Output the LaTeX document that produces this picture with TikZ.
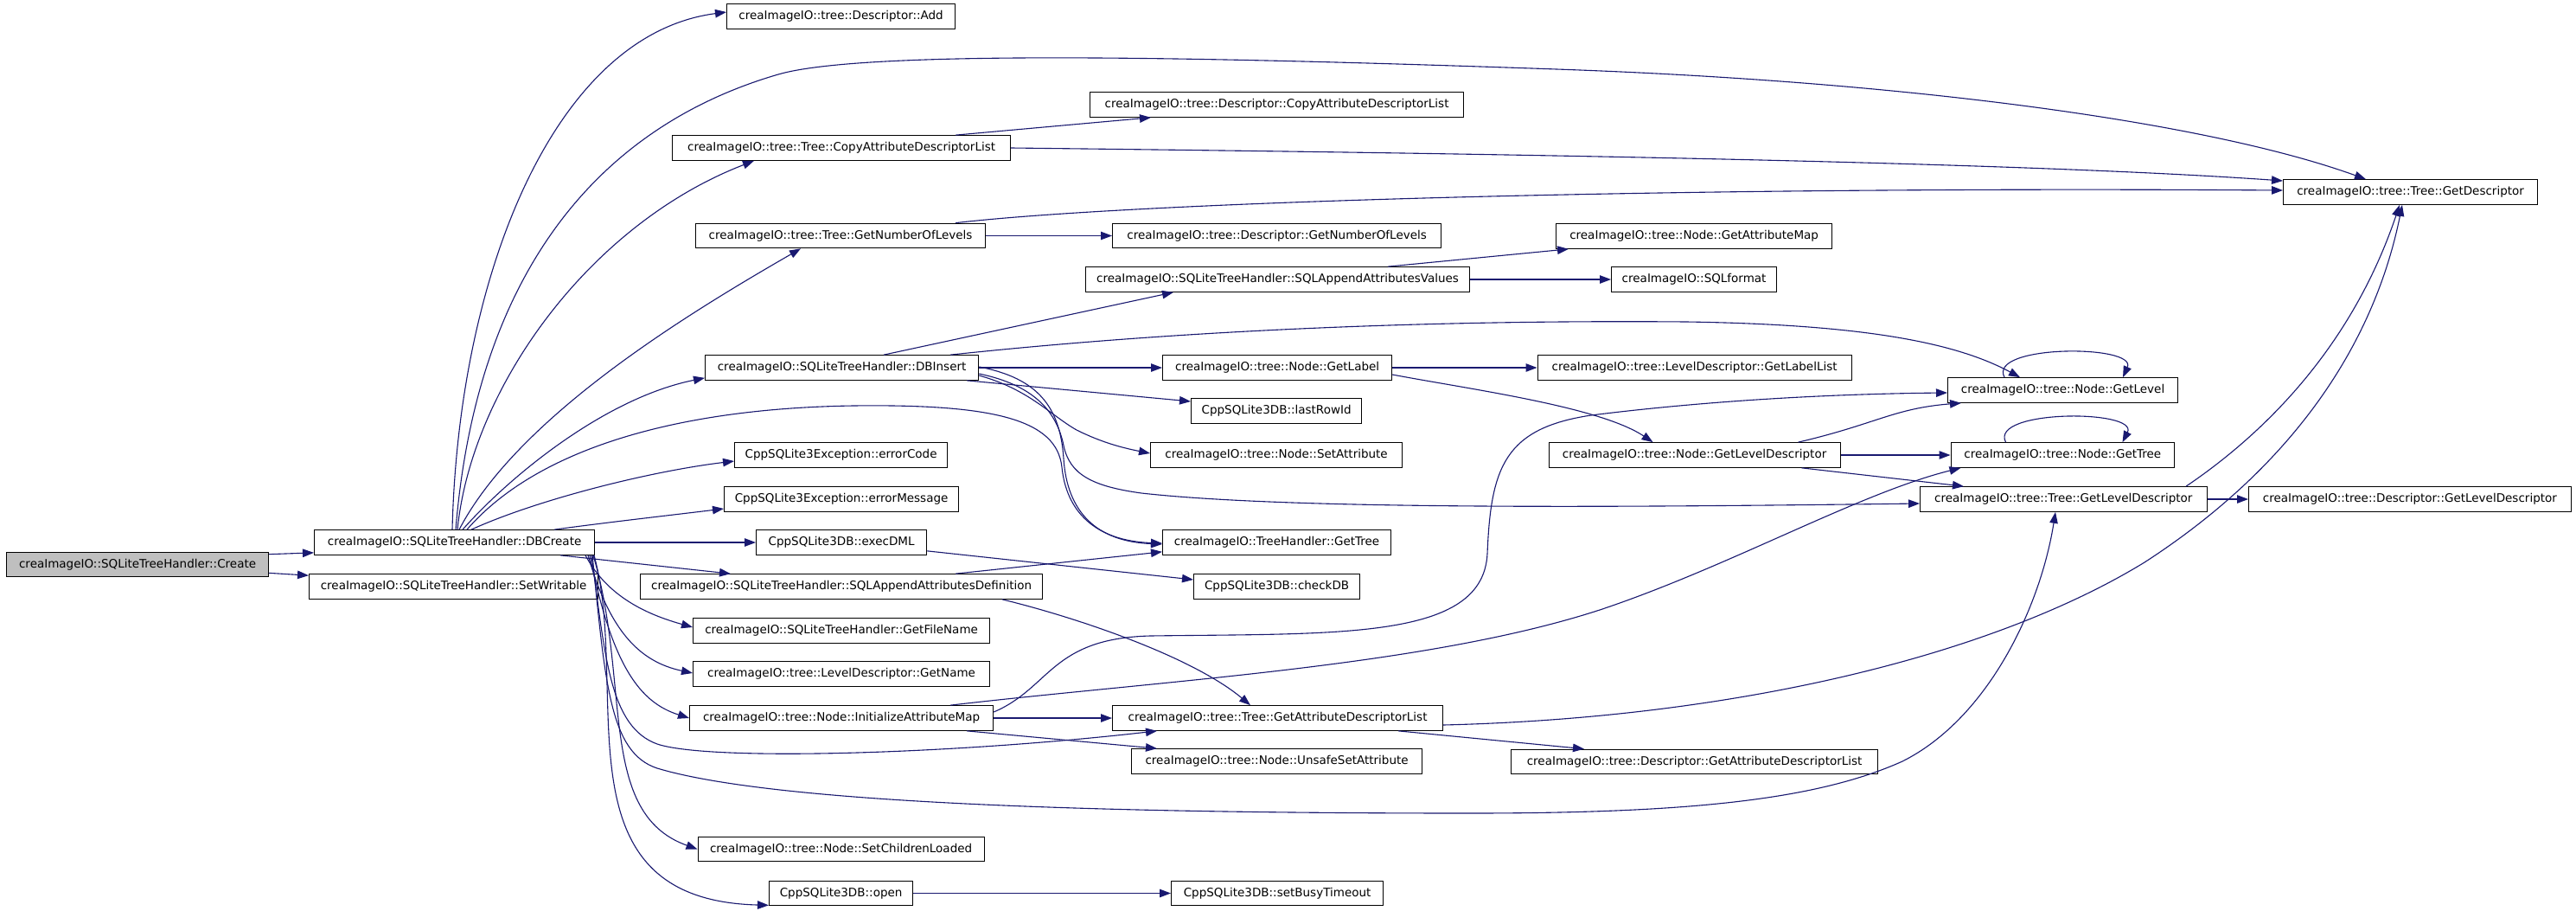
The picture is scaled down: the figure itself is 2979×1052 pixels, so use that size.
\documentclass[tikz,border=0pt]{standalone}
\usepackage{fontspec}
\setmainfont{DejaVu Sans}
\usetikzlibrary{arrows.meta,calc}
\definecolor{edgeblue}{RGB}{25,25,112}
\definecolor{rootgray}{RGB}{191,191,191}
\begin{document}
\begin{tikzpicture}[x=1pt,y=-1pt,
  box/.style={draw=black,line width=1.2pt,fill=white,minimum height=28.5pt,inner sep=0pt,anchor=west,font=\fontsize{13.5}{16}\selectfont},
  rootbox/.style={box,fill=rootgray},
  e/.style={draw=edgeblue,line width=1.1pt,-{Triangle[length=13pt,width=9.5pt]}}]
\fill[white] (0,0) rectangle (2979,1052);
\path[use as bounding box] (0,0) rectangle (2979,1052);

% nodes (anchor west at left edge)
\node[rootbox,minimum width=303pt] (create) at (7,652.5) {creaImageIO::SQLiteTreeHandler::Create};
\node[box,minimum width=324pt] (dbcreate) at (363,627) {creaImageIO::SQLiteTreeHandler::DBCreate};
\node[box,minimum width=334pt] (setwritable) at (357,678) {creaImageIO::SQLiteTreeHandler::SetWritable};

\node[box,minimum width=264pt] (add) at (840,19) {creaImageIO::tree::Descriptor::Add};
\node[box,minimum width=391pt] (tcopy) at (777,171) {creaImageIO::tree::Tree::CopyAttributeDescriptorList};
\node[box,minimum width=335pt] (tnlev) at (804,272.5) {creaImageIO::tree::Tree::GetNumberOfLevels};
\node[box,minimum width=316pt] (dbinsert) at (815,425) {creaImageIO::SQLiteTreeHandler::DBInsert};
\node[box,minimum width=246pt] (errcode) at (849,526) {CppSQLite3Exception::errorCode};
\node[box,minimum width=271pt] (errmsg) at (837,577) {CppSQLite3Exception::errorMessage};
\node[box,minimum width=197pt] (execdml) at (874,627) {CppSQLite3DB::execDML};
\node[box,minimum width=465pt] (sqldef) at (740,678) {creaImageIO::SQLiteTreeHandler::SQLAppendAttributesDefinition};
\node[box,minimum width=343pt] (filename) at (801,729) {creaImageIO::SQLiteTreeHandler::GetFileName};
\node[box,minimum width=343pt] (getname) at (801,779) {creaImageIO::tree::LevelDescriptor::GetName};
\node[box,minimum width=351pt] (initmap) at (797,830) {creaImageIO::tree::Node::InitializeAttributeMap};
\node[box,minimum width=331pt] (children) at (806.5,981.5) {creaImageIO::tree::Node::SetChildrenLoaded};
\node[box,minimum width=166pt] (open) at (889,1032.5) {CppSQLite3DB::open};

\node[box,minimum width=432pt] (dcopy) at (1260,121) {creaImageIO::tree::Descriptor::CopyAttributeDescriptorList};
\node[box,minimum width=380pt] (dnlev) at (1286,272.5) {creaImageIO::tree::Descriptor::GetNumberOfLevels};
\node[box,minimum width=444pt] (sqlvalues) at (1255,323) {creaImageIO::SQLiteTreeHandler::SQLAppendAttributesValues};
\node[box,minimum width=265pt] (getlabel) at (1344,425) {creaImageIO::tree::Node::GetLabel};
\node[box,minimum width=197pt] (lastrowid) at (1377,475) {CppSQLite3DB::lastRowId};
\node[box,minimum width=291pt] (setattr) at (1330,526) {creaImageIO::tree::Node::SetAttribute};
\node[box,minimum width=264pt] (thgettree) at (1344,627) {creaImageIO::TreeHandler::GetTree};
\node[box,minimum width=192pt] (checkdb) at (1380,678) {CppSQLite3DB::checkDB};
\node[box,minimum width=382pt] (tattrlist) at (1286,830) {creaImageIO::tree::Tree::GetAttributeDescriptorList};
\node[box,minimum width=336pt] (unsafe) at (1308,880) {creaImageIO::tree::Node::UnsafeSetAttribute};
\node[box,minimum width=245pt] (busy) at (1354,1032.5) {CppSQLite3DB::setBusyTimeout};

\node[box,minimum width=319pt] (getattrmap) at (1799,273) {creaImageIO::tree::Node::GetAttributeMap};
\node[box,minimum width=191pt] (sqlformat) at (1863,323) {creaImageIO::SQLformat};
\node[box,minimum width=363pt] (labellist) at (1777.5,425) {creaImageIO::tree::LevelDescriptor::GetLabelList};
\node[box,minimum width=337pt] (nlevdesc) at (1790.5,526) {creaImageIO::tree::Node::GetLevelDescriptor};
\node[box,minimum width=424pt] (dattrlist) at (1747,880.5) {creaImageIO::tree::Descriptor::GetAttributeDescriptorList};

\node[box,minimum width=266pt] (getlevel) at (2252,451) {creaImageIO::tree::Node::GetLevel};
\node[box,minimum width=258.5pt] (nodegettree) at (2255.5,526) {creaImageIO::tree::Node::GetTree};
\node[box,minimum width=331.5pt] (tlevdesc) at (2220,577) {creaImageIO::tree::Tree::GetLevelDescriptor};

\node[box,minimum width=294pt] (getdesc) at (2640,222) {creaImageIO::tree::Tree::GetDescriptor};
\node[box,minimum width=372.5pt] (dlevdesc) at (2600,577) {creaImageIO::tree::Descriptor::GetLevelDescriptor};

% edges from Create
\draw[e] ($(create.north east)+(0,3)$) -- ($(dbcreate.south west)+(0,-3)$);
\draw[e] ($(create.south east)+(0,-5)$) -- ($(setwritable.north west)+(0,2)$);

% edges from DBCreate (top side)
\draw[e] ($(dbcreate.north west)+(160,0)$) .. controls (530,320) and (640,40) .. ($(add.west)+(0,-5)$);
\draw[e] ($(dbcreate.north west)+(164,0)$) .. controls (550,330) and (680,150) .. (900,86)
   .. controls (1000,57) and (1400,66) .. (1800,80)
   .. controls (2200,94) and (2550,140) .. ($(getdesc.north west)+(96,0)$);
\draw[e] ($(dbcreate.north west)+(166,0)$) .. controls (545,450) and (680,260) .. ($(tcopy.south west)+(95,0)$);
\draw[e] ($(dbcreate.north west)+(168,0)$) .. controls (600,480) and (800,360) .. ($(tnlev.south west)+(122,0)$);
\draw[e] ($(dbcreate.north west)+(172,0)$) .. controls (590,550) and (700,460) .. ($(dbinsert.south west)+(0,-3)$);
\draw[e] ($(dbcreate.north west)+(177,0)$) .. controls (620,520) and (780,472) .. (987,469)
   .. controls (1150,467) and (1222,485) .. (1228,540)
   .. controls (1233,590) and (1265,625) .. ($(thgettree.west)+(0,1)$);
\draw[e] ($(dbcreate.north west)+(182,0)$) .. controls (620,578) and (750,545) .. ($(errcode.west)+(0,7)$);
\draw[e] ($(dbcreate.north west)+(278,0)$) .. controls (700,604) and (780,595) .. ($(errmsg.west)+(0,11)$);
\draw[e] (dbcreate.east) -- (execdml.west);
% edges from DBCreate (bottom side)
\draw[e] ($(dbcreate.south west)+(285,0)$) -- ($(sqldef.north west)+(105,0)$);
\draw[e] ($(dbcreate.south west)+(314,0)$) .. controls (700,685) and (740,708) .. ($(filename.west)+(0,-4)$);
\draw[e] ($(dbcreate.south west)+(317,0)$) .. controls (705,730) and (740,765) .. ($(getname.west)+(0,-1)$);
\draw[e] ($(dbcreate.south west)+(319,0)$) .. controls (708,770) and (740,812) .. (initmap.west);
\draw[e] ($(dbcreate.south west)+(321,0)$) .. controls (700,760) and (705,840) .. (760,860)
   .. controls (820,880) and (1100,872) .. ($(tattrlist.south west)+(52,0)$);
\draw[e] ($(dbcreate.south west)+(322,0)$) .. controls (700,790) and (705,870) .. (760,888)
   .. controls (900,930) and (1300,940) .. (1700,940)
   .. controls (1950,940) and (2100,925) .. (2200,880)
   .. controls (2300,830) and (2360,700) .. ($(tlevdesc.south west)+(157,0)$);
\draw[e] ($(dbcreate.south west)+(323,0)$) .. controls (730,790) and (690,940) .. (children.west);
\draw[e] ($(dbcreate.south west)+(324,0)$) .. controls (730,800) and (640,1040) .. ($(open.south west)+(0,-1)$);

% edges from DBInsert
\draw[e] (dbinsert.east) -- (getlabel.west);
\draw[e] ($(dbinsert.east)+(0,-1)$) .. controls (1200,437) and (1226,470) .. (1230,530)
   .. controls (1234,592) and (1268,626) .. ($(thgettree.west)+(0,2)$);
\draw[e] ($(dbinsert.east)+(0,7)$) .. controls (1195,445) and (1222,475) .. (1230,515)
   .. controls (1237,548) and (1262,562) .. (1320,570)
   .. controls (1500,590) and (1900,586) .. ($(tlevdesc.west)+(0,5)$);
\draw[e] ($(dbinsert.east)+(0,9)$) .. controls (1190,450) and (1215,480) .. (1245,497)
   .. controls (1275,512) and (1300,518) .. ($(setattr.west)+(0,-2)$);
\draw[e] ($(dbinsert.south east)+(-14,0)$) -- ($(lastrowid.west)+(0,-11)$);
\draw[e] ($(dbinsert.north west)+(207,0)$) -- ($(sqlvalues.south west)+(102,0)$);
\draw[e] ($(dbinsert.north west)+(284,0)$) .. controls (1400,378) and (1700,370) .. (1950,372)
   .. controls (2150,375) and (2260,395) .. ($(getlevel.north west)+(84,0)$);

% other edges
\draw[e] ($(tcopy.north west)+(328,0)$) -- ($(dcopy.south west)+(71,0)$);
\draw[e] (tcopy.east) .. controls (1600,176) and (2300,185) .. ($(getdesc.west)+(0,-13)$);
\draw[e] (tnlev.east) -- (dnlev.west);
\draw[e] ($(tnlev.north west)+(301,0)$) .. controls (1300,235) and (1900,215) .. ($(getdesc.west)+(0,-2)$);
\draw[e] ($(sqlvalues.north west)+(350,0)$) -- ($(getattrmap.south west)+(15,0)$);
\draw[e] (sqlvalues.east) -- (sqlformat.west);
\draw[e] (getlabel.east) -- (labellist.west);
\draw[e] ($(getlabel.east)+(0,8)$) .. controls (1700,450) and (1850,470) .. ($(nlevdesc.north west)+(121,0)$);
\draw[e] ($(getlevel.north west)+(66,0)$) .. controls (2298,398) and (2472,398) .. ($(getlevel.north west)+(203,0)$);
\draw[e] ($(nodegettree.north west)+(64,0)$) .. controls (2300,473) and (2474,473) .. ($(nodegettree.north west)+(199,0)$);
\draw[e] ($(nlevdesc.north west)+(289,0)$) .. controls (2170,490) and (2190,472) .. ($(getlevel.south west)+(16,0)$);
\draw[e] (nlevdesc.east) -- (nodegettree.west);
\draw[e] ($(nlevdesc.south west)+(293,0)$) -- ($(tlevdesc.north west)+(51,0)$);
\draw[e] (tlevdesc.east) -- (dlevdesc.west);
\draw[e] ($(tlevdesc.north west)+(308,0)$) .. controls (2620,500) and (2720,400) .. ($(getdesc.south west)+(135,0)$);
\draw[e] ($(tattrlist.east)+(0,8)$) .. controls (2000,830) and (2300,760) .. (2480,650)
   .. controls (2650,540) and (2745,400) .. ($(getdesc.south west)+(138,0)$);
\draw[e] ($(tattrlist.south west)+(331,0)$) -- ($(dattrlist.north west)+(85,0)$);
\draw[e] (initmap.east) -- (tattrlist.west);
\draw[e] ($(initmap.south west)+(321,0)$) -- ($(unsafe.north west)+(30,0)$);
\draw[e] ($(initmap.east)+(0,-7)$) .. controls (1215,795) and (1215,738) .. (1330,735)
   .. controls (1550,732) and (1715,740) .. (1720,640)
   .. controls (1724,540) and (1740,495) .. (1840,480)
   .. controls (2000,460) and (2150,455) .. ($(getlevel.west)+(0,3)$);
\draw[e] ($(initmap.north west)+(302,0)$) .. controls (1350,786) and (1650,770) .. (1850,705)
   .. controls (2000,655) and (2150,570) .. ($(nodegettree.south west)+(12,0)$);
\draw[e] ($(sqldef.north west)+(365,0)$) -- ($(thgettree.south west)+(0,-4)$);
\draw[e] ($(sqldef.south west)+(419,0)$) .. controls (1250,715) and (1380,760) .. ($(tattrlist.north west)+(160,0)$);
\draw[e] ($(execdml.south east)+(0,-5)$) -- ($(checkdb.west)+(0,-8)$);
\draw[e] (open.east) -- (busy.west);
\end{tikzpicture}
\end{document}
